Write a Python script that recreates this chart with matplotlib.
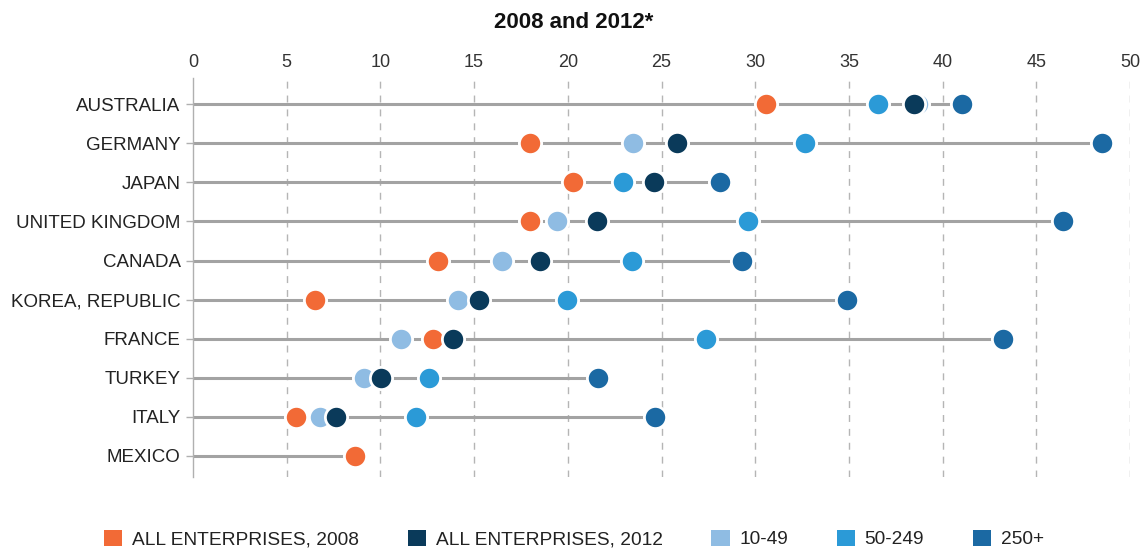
import numpy as np
import matplotlib
matplotlib.use("Agg")
import matplotlib.pyplot as plt
from matplotlib.patches import Patch

plt.rcParams['font.family'] = ['Liberation Sans', 'DejaVu Sans']

countries = ["AUSTRALIA", "GERMANY", "JAPAN", "UNITED KINGDOM", "CANADA",
             "KOREA, REPUBLIC", "FRANCE", "TURKEY", "ITALY", "MEXICO"]

all_2008 = [30.6, 18.0, 20.3, 18.0, 13.05, 6.5, 12.8, np.nan, 5.5, 8.65]
all_2012 = [38.5, 25.85, 24.6, 21.55, 18.5, 15.25, 13.85, 10.05, 7.65, np.nan]
size_10_49 = [38.7, 23.5, np.nan, 19.45, 16.5, 14.15, 11.1, 9.1, 6.8, np.nan]
size_50_249 = [36.55, 32.65, 22.95, 29.6, 23.45, 19.95, 27.4, 12.6, 11.9, np.nan]
size_250 = [41.05, 48.5, 28.1, 46.4, 29.3, 34.9, 43.2, 21.6, 24.65, np.nan]

series = [
    ("ALL ENTERPRISES, 2008", all_2008, "#F26A36"),
    ("ALL ENTERPRISES, 2012", all_2012, "#0A3A5A"),
    ("10-49", size_10_49, "#8FBCE3"),
    ("50-249", size_50_249, "#2B9AD7"),
    ("250+", size_250, "#1B69A3"),
]
# drawing order: dark 2012 dots sit on top
draw_order = [0, 2, 3, 4, 1]

fig = plt.figure(figsize=(11.48, 5.49), dpi=100)
ax = fig.add_axes([193 / 1148, 1 - 477 / 549, (1130 - 193) / 1148, (477 - 78) / 549])

y = np.arange(len(countries))
data = np.array([s[1] for s in series], dtype=float)
row_max = np.nanmax(data, axis=0)

# dashed grid
for xv in range(5, 55, 5):
    ax.axvline(xv, color="#b5b5b5", lw=1, ls=(0, (5, 5)), zorder=0)

ax.hlines(y, 0, row_max, color="#a3a3a3", lw=2.2, zorder=1)

for i in draw_order:
    label, vals, col = series[i]
    ax.plot(vals, y, "o", ms=16, mfc=col, mec="white", mew=2, ls="none", zorder=3 + (i == 1))

ax.set_xlim(0, 50)
ax.set_ylim(len(countries) - 1 + 0.54, -0.67)
ax.set_xticks(range(0, 55, 5))
ax.xaxis.tick_top()
ax.tick_params(axis="x", length=0, pad=5, labelsize=13, labelcolor="#333333")
ax.set_yticks(y)
ax.set_yticklabels(countries)
ax.tick_params(axis="y", length=5, width=1, color="#b0b0b0", pad=4, labelsize=13.5, labelcolor="#222222")
for side in ["top", "right", "bottom"]:
    ax.spines[side].set_visible(False)
ax.spines["left"].set_color("#b0b0b0")
ax.spines["left"].set_linewidth(1)

fig.text(0.5, 1 - 23 / 549, "2008 and 2012*", ha="center", va="center",
         fontsize=16, fontweight="bold", color="#111111")

handles = [Patch(facecolor=c, edgecolor="none", label=l) for l, _, c in series]
fig.legend(handles=handles, loc="center", bbox_to_anchor=(0.5, 1 - 539 / 549), ncol=5,
           frameon=False, fontsize=13.8, handlelength=0.95, handleheight=0.95,
           handletextpad=0.5, columnspacing=2.55, labelcolor="#222222")

fig.savefig("out.png", dpi=100)
